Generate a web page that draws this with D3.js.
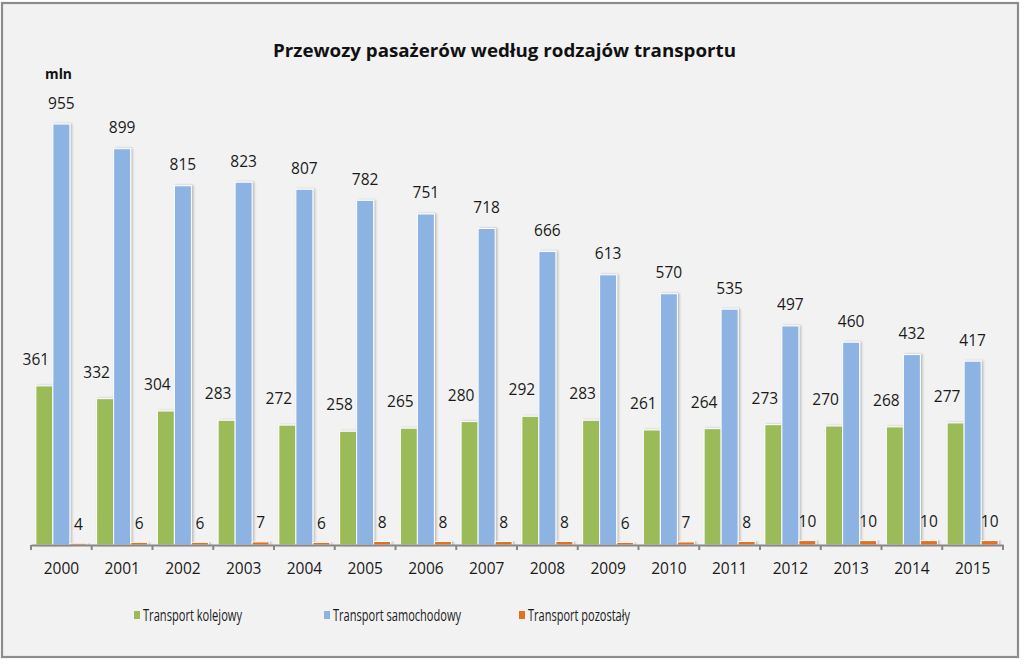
<!DOCTYPE html>
<html><head><meta charset="utf-8">
<script src="https://cdn.jsdelivr.net/npm/d3@7"></script>
<style>
html,body{margin:0;padding:0;background:#fff;}
svg{display:block;}
</style></head>
<body>
<svg id="c" width="1024" height="665"></svg>
<script>
const years = ["2000","2001","2002","2003","2004","2005","2006","2007","2008","2009","2010","2011","2012","2013","2014","2015"];
const seriesNames = ["Transport kolejowy","Transport samochodowy","Transport pozostały"];
const rail = [361,332,304,283,272,258,265,280,292,283,261,264,273,270,268,277];
const road = [955,899,815,823,807,782,751,718,666,613,570,535,497,460,432,417];
const other = [4,6,6,7,6,8,8,8,8,6,7,8,10,10,10,10];
const colors = ["#9bbb59","#8db3e2","#e46f1c"];
const title = "Przewozy pasażerów według rodzajów transportu";
const unit = "mln";

const svg = d3.select("#c");
const font = "'Open Sans', 'Noto Sans', sans-serif";

// frame
svg.append("rect").attr("x",2).attr("y",3).attr("width",1016).attr("height",654)
  .attr("fill","#f2f2f2").attr("stroke","#8c8c8c").attr("stroke-width",2.2);

const defs = svg.append("defs");
const f = defs.append("filter").attr("id","sh").attr("x","-20%").attr("y","-5%").attr("width","160%").attr("height","110%");
f.append("feDropShadow").attr("dx",1.5).attr("dy",0).attr("stdDeviation",1.2).attr("flood-color","#000").attr("flood-opacity",0.25);

const x = d3.scaleBand().domain(years).range([31,1003]).paddingInner(0.16).paddingOuter(0.08);
const xs = d3.scaleBand().domain(seriesNames).range([0, x.bandwidth()]).padding(0);
const y = d3.scaleLinear().domain([0,1000]).range([545,104.2]);

const data = [rail, road, other];
const labelOffsets = [-21, -15.5, -13.5];
const labelDx = [-8.5, 0, 0];

data.forEach((vals, si) => {
  const g = svg.append("g");
  g.selectAll("rect").data(vals).join("rect")
    .attr("x",(d,i)=>x(years[i])+xs(seriesNames[si]))
    .attr("width",xs.bandwidth())
    .attr("y",d=>y(d))
    .attr("height",d=>y(0)-y(d))
    .attr("fill",colors[si])
    .attr("stroke","#ffffff").attr("stroke-width",1)
    .attr("filter","url(#sh)");
  g.selectAll("text").data(vals).join("text")
    .attr("x",(d,i)=>x(years[i])+xs(seriesNames[si])+xs.bandwidth()/2+labelDx[si])
    .attr("y",d=>y(d)+labelOffsets[si])
    .attr("text-anchor","middle")
    .attr("font-family",font).attr("font-size",15.5).attr("fill","#1a1a1a")
    .text(d=>d);
});

// axis
const ax = svg.append("g").attr("transform",`translate(0,${y(0)})`)
  .call(d3.axisBottom(x).tickSize(0).tickPadding(18));
ax.select(".domain").attr("stroke","#868686").attr("stroke-width",2.2);
ax.selectAll("text").attr("font-family",font).attr("font-size",15.5).attr("fill","#1a1a1a");
const bounds = d3.range(years.length+1).map(i => x.range()[0] + i*x.step());
ax.selectAll(".bt").data(bounds).join("line").attr("class","bt")
  .attr("x1",d=>d).attr("x2",d=>d).attr("y1",0).attr("y2",5)
  .attr("stroke","#868686").attr("stroke-width",2);

// title
svg.append("text").attr("x",504.5).attr("y",57).attr("text-anchor","middle")
  .attr("font-family",font).attr("font-weight","bold").attr("font-size",18.5).attr("fill","#111")
  .attr("textLength",463).attr("lengthAdjust","spacingAndGlyphs")
  .text(title);
svg.append("text").attr("x",45).attr("y",79)
  .attr("font-family",font).attr("font-weight","bold").attr("font-size",14.5).attr("fill","#111")
  .attr("textLength",27).attr("lengthAdjust","spacingAndGlyphs")
  .text(unit);

// legend
const legX = [134, 324, 519];
const legW = [99, 128, 102];
const leg = svg.append("g");
seriesNames.forEach((n,i)=>{
  leg.append("rect").attr("x",legX[i]).attr("y",611).attr("width",6).attr("height",8).attr("fill",colors[i]);
  leg.append("text").attr("x",legX[i]+9).attr("y",620.5)
    .attr("font-family",font).attr("font-size",16).attr("fill","#1a1a1a")
    .attr("textLength",legW[i]).attr("lengthAdjust","spacingAndGlyphs")
    .text(n);
});
</script>
</body></html>
